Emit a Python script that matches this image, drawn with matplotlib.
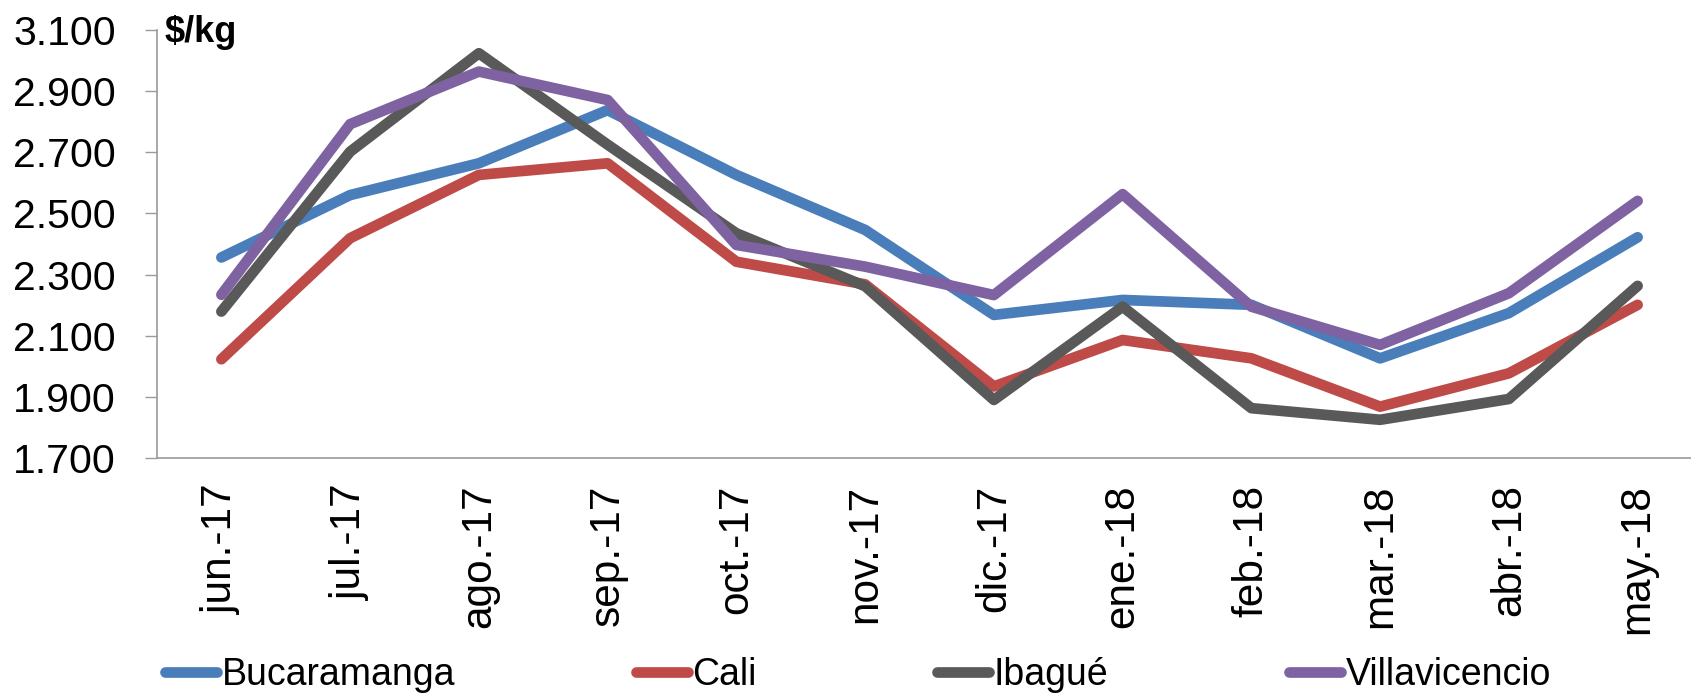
import matplotlib
matplotlib.use("Agg")
import matplotlib.pyplot as plt
from matplotlib.ticker import FuncFormatter

plt.rcParams['font.family'] = ['Liberation Sans', 'DejaVu Sans']

# data ($/kg)
months = ['jun.-17', 'jul.-17', 'ago.-17', 'sep.-17', 'oct.-17', 'nov.-17',
          'dic.-17', 'ene.-18', 'feb.-18', 'mar.-18', 'abr.-18', 'may.-18']
bucaramanga = [2356, 2560, 2664, 2838, 2626, 2446, 2168, 2217, 2201, 2026, 2174, 2422]
cali = [2023, 2419, 2626, 2664, 2342, 2268, 1934, 2086, 2026, 1868, 1977, 2201]
ibague = [2179, 2702, 3024, 2725, 2435, 2262, 1890, 2195, 1863, 1825, 1893, 2263]
villavicencio = [2234, 2792, 2964, 2871, 2397, 2326, 2233, 2563, 2195, 2070, 2239, 2541]

series = [
    ('Bucaramanga', bucaramanga, '#4A7EBB'),
    ('Cali', cali, '#BE4B48'),
    ('Ibagué', ibague, '#595959'),
    ('Villavicencio', villavicencio, '#7E62A1'),
]

W, H = 1691, 693
fig = plt.figure(figsize=(W / 100, H / 100), dpi=100)
# axes placed in pixel terms: left spine at x=157, plot top y=30, bottom y=458
ax = fig.add_axes([157 / W, 1 - 458 / H, (1702 - 157) / W, (458 - 30) / H])

x = list(range(len(months)))
for name, vals, col in series:
    ax.plot(x, vals, color=col, lw=7.7, label=name,
            solid_capstyle='round', solid_joinstyle='round')

ax.set_xlim(-0.5, len(months) - 0.5)
ax.set_ylim(1700, 3100)
ax.set_yticks(range(1700, 3101, 200))
ax.yaxis.set_major_formatter(FuncFormatter(lambda v, p: f"{int(v):,}".replace(',', '.')))
ax.set_xticks(x)
ax.set_xticklabels(months, rotation=90)

for s in ['top', 'right']:
    ax.spines[s].set_visible(False)
for s in ['left', 'bottom']:
    ax.spines[s].set_color('#9a9a9a')
    ax.spines[s].set_linewidth(1.2)

ax.tick_params(axis='y', length=8.6, width=1.0, color='#9a9a9a', pad=21, labelsize=29.5)
ax.tick_params(axis='x', length=0, pad=19, labelsize=30.5)

fig.text(165 / W, 1 - 15 / H, '\\$/kg', fontsize=26, fontweight='bold', va='top', ha='left')

leg = fig.legend(loc='center left', bbox_to_anchor=(165 / W, 1 - 675 / H),
                 ncol=4, frameon=False, fontsize=27, borderaxespad=0, borderpad=0,
                 handlelength=1.39, handletextpad=0.13, columnspacing=4.8)

fig.savefig('out.png', dpi=100)
